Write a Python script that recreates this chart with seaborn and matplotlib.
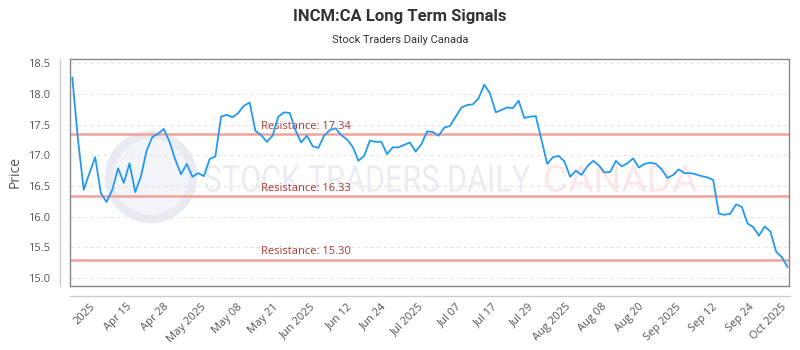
import matplotlib
matplotlib.use("Agg")
import matplotlib.pyplot as plt
import seaborn as sns
import numpy as np
import pandas as pd
from matplotlib.patches import Ellipse, PathPatch
from matplotlib.lines import Line2D
from matplotlib.textpath import TextPath
from matplotlib.font_manager import FontProperties
from matplotlib.transforms import Affine2D

# ---- data ----
prices = [
    18.27, 17.25, 16.44, 16.71, 16.97, 16.38, 16.24, 16.44, 16.79, 16.55,
    16.87, 16.40, 16.66, 17.08, 17.30, 17.35, 17.43, 17.22, 16.93, 16.69,
    16.86, 16.65, 16.71, 16.66, 16.94, 16.98, 17.63, 17.66, 17.62, 17.69,
    17.81, 17.86, 17.40, 17.33, 17.22, 17.32, 17.63, 17.70, 17.69, 17.41,
    17.21, 17.32, 17.15, 17.12, 17.32, 17.41, 17.44, 17.33, 17.26, 17.14,
    16.91, 16.99, 17.24, 17.22, 17.22, 17.02, 17.13, 17.13, 17.17, 17.21,
    17.06, 17.18, 17.39, 17.38, 17.32, 17.45, 17.48, 17.63, 17.78, 17.82,
    17.83, 17.93, 18.15, 18.01, 17.70, 17.74, 17.78, 17.77, 17.89, 17.61,
    17.63, 17.64, 17.25, 16.86, 16.97, 16.99, 16.90, 16.65, 16.75, 16.68,
    16.82, 16.91, 16.84, 16.72, 16.73, 16.91, 16.82, 16.87, 16.95, 16.80,
    16.86, 16.88, 16.86, 16.77, 16.63, 16.68, 16.77, 16.71, 16.71, 16.69,
    16.66, 16.64, 16.60, 16.05, 16.03, 16.05, 16.20, 16.16, 15.89, 15.83,
    15.69, 15.84, 15.76, 15.43, 15.34, 15.18,
]
tick_labels = ["2025", "Apr 15", "Apr 28", "May 2025", "May 08", "May 21",
               "Jun 2025", "Jun 12", "Jun 24", "Jul 2025", "Jul 07", "Jul 17",
               "Jul 29", "Aug 2025", "Aug 08", "Aug 20", "Sep 2025", "Sep 12",
               "Sep 24", "Oct 2025"]
tick_index = [3.1, 9.4, 15.9, 22.4, 28.7, 35.1, 41.6, 47.9, 54.0, 60.5,
              67.0, 73.3, 79.7, 86.2, 92.5, 99.0, 105.4, 111.7, 118.2, 123.9]
resistances = [17.34, 16.33, 15.30]
y_ticks = [15.0, 15.5, 16.0, 16.5, 17.0, 17.5, 18.0, 18.5]

title = "INCM:CA Long Term Signals"
subtitle = "Stock Traders Daily Canada"
watermark_left = "STOCK TRADERS DAILY"
watermark_right = "CANADA"

df = pd.DataFrame({"idx": np.arange(len(prices)), "price": prices})

sns.set_theme(style="white")
plt.rcParams["font.family"] = ["Open Sans", "DejaVu Sans"]

W, H = 800, 350
fig = plt.figure(figsize=(8, 3.5), dpi=100)
ax = fig.add_axes([70 / W, 1 - 286 / H, 719 / W, 227 / H])


def pix_text(s, x0, x1, base_y, cap_h, color):
    """Faint condensed watermark text placed in figure pixels."""
    tp = TextPath((0, 0), s, size=100, prop=FontProperties(family="Roboto"))
    ext = tp.get_extents()
    tr = (Affine2D().translate(-ext.x0, -ext.y0)
          .scale((x1 - x0) / ext.width, cap_h / ext.height)
          .translate(x0, H - base_y))
    patch = PathPatch(tr.transform_path(tp), facecolor=color,
                      edgecolor="none", zorder=0)
    patch.set_transform(Affine2D().scale(1 / W, 1 / H) + fig.transFigure)
    ax.add_artist(patch)


# watermark logo + text
ax.add_patch(Ellipse(((151 - 70) / 719, (286 - 177) / 227),
                     84 / 719, 84 / 227, transform=ax.transAxes,
                     facecolor="#f2f4f8", edgecolor="#e8ebf1", lw=6, zorder=0))
pix_text(watermark_left, 205, 530, 192, 27, "#e9edf3")
pix_text(watermark_right, 545, 697, 192, 27, "#fde7e7")

# grid
for yv in y_ticks:
    ax.axhline(yv, color="#e3e3e3", lw=0.8, ls=(0, (3, 3)), zorder=1)

# resistance lines
for r in resistances:
    ax.axhline(r, color="#f3a29b", lw=1.8, zorder=2)
    ax.text(0.266, r + 0.04, f"Resistance: {r:.2f}",
            transform=ax.get_yaxis_transform(), color="#b03a34",
            fontsize=8, ha="left", va="bottom", zorder=3)

sns.lineplot(data=df, x="idx", y="price", ax=ax, color="#2499f2",
             lw=1.3, zorder=4)

ax.set_xlim(-0.4, 125.25)
ax.set_ylim(14.87, 18.57)
ax.set_yticks(y_ticks)
ax.set_yticklabels([f"{v:.1f}" for v in y_ticks])
ax.set_xticks(tick_index)
ax.set_xticklabels(tick_labels, rotation=45, ha="right",
                   rotation_mode="anchor")
ax.tick_params(axis="y", length=0, pad=14, labelsize=8, labelcolor="#555555")
ax.tick_params(axis="x", length=0, pad=11, labelsize=8, labelcolor="#555555")
ax.set_xlabel("")
ax.set_ylabel("Price", fontsize=10, color="#555555")
ax.yaxis.set_label_coords((23 - 70) / 719, 0.5)

for s in ax.spines.values():
    s.set_visible(True)
    s.set_color("#888888")
    s.set_linewidth(1.0)

# offset axis lines
fig.add_artist(Line2D([60 / W, 60 / W], [1 - 59 / H, 1 - 286 / H],
                      color="#cccccc", lw=1.0, transform=fig.transFigure))
fig.add_artist(Line2D([70 / W, 790 / W], [1 - 296 / H, 1 - 296 / H],
                      color="#cccccc", lw=1.0, transform=fig.transFigure))

fig.text(0.5, 1 - 16 / H, title, ha="center", va="center",
         fontsize=12, fontweight="bold", color="#333333", family="Roboto")
fig.text(0.5, 1 - 40 / H, subtitle, ha="center", va="center",
         fontsize=8, color="#333333", family="Roboto")

fig.savefig("out.png", dpi=100)
